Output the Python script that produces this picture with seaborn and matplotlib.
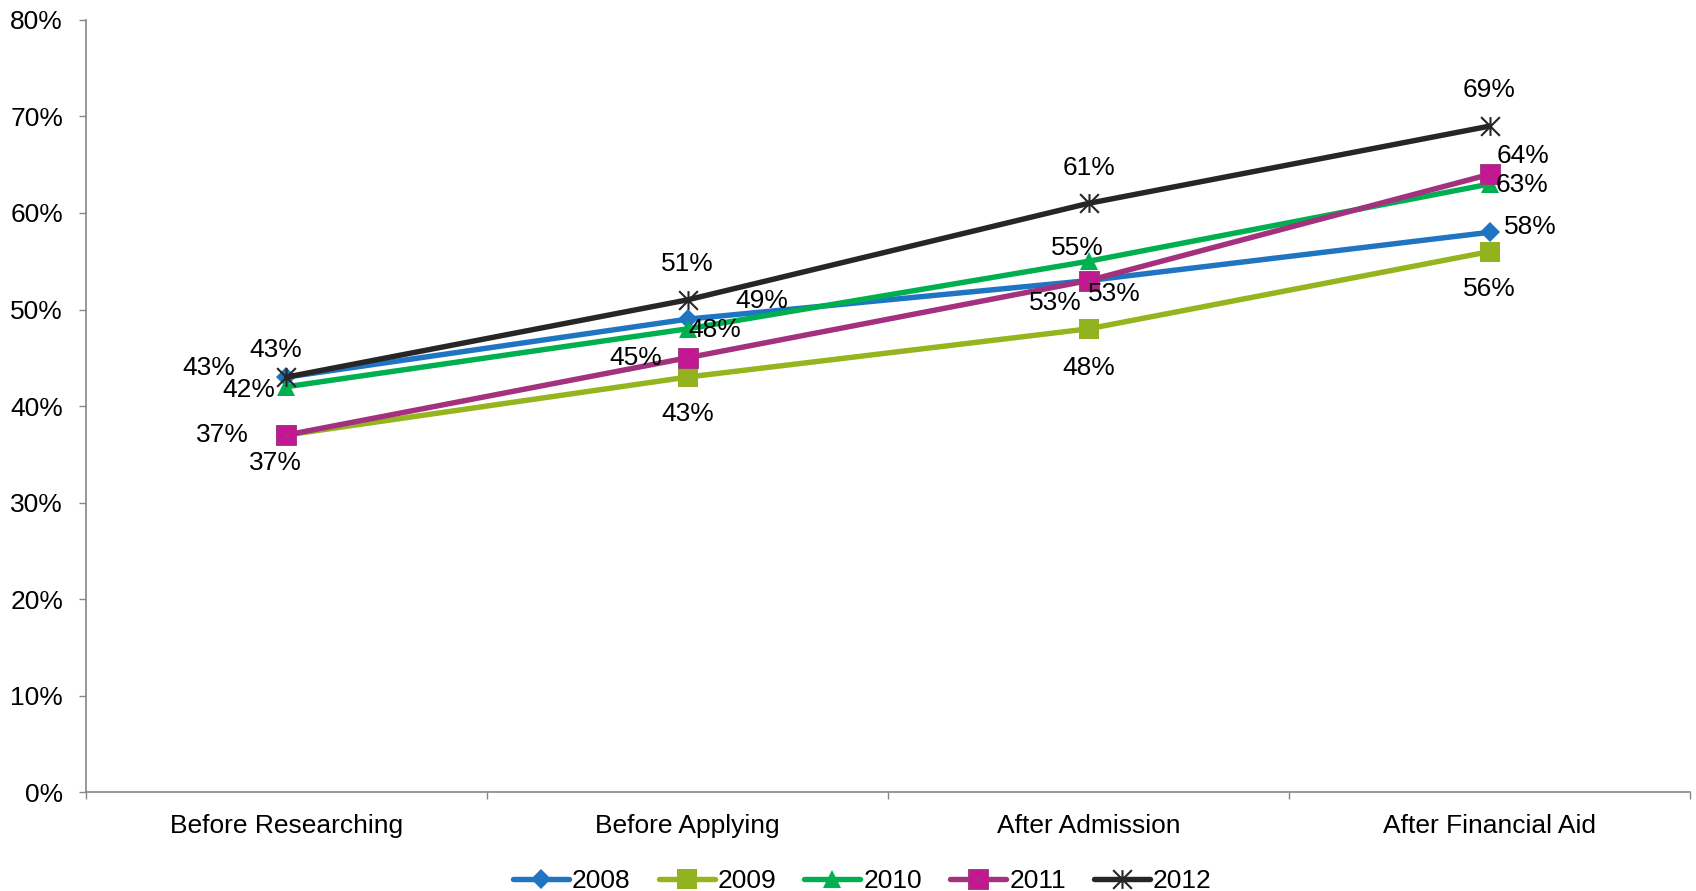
import matplotlib
matplotlib.use("Agg")
import matplotlib.pyplot as plt
import seaborn as sns
import numpy as np
from matplotlib.path import Path
from matplotlib.ticker import FixedLocator, PercentFormatter

# ---- data ----
categories = ["Before Researching", "Before Applying", "After Admission", "After Financial Aid"]
years = ["2008", "2009", "2010", "2011", "2012"]
v2008 = [43, 49, 53, 58]
v2009 = [37, 43, 48, 56]
v2010 = [42, 48, 55, 63]
v2011 = [37, 45, 53, 64]
v2012 = [43, 51, 61, 69]
series = [v2008, v2009, v2010, v2011, v2012]
yticks = [0, 10, 20, 30, 40, 50, 60, 70, 80]

# ---- styles ----
sns.set_theme(style="white")
plt.rcParams["font.family"] = ["Liberation Sans", "DejaVu Sans"]
FS = 19

line_colors = ["#1F75C1", "#96B41E", "#00B050", "#A3317E", "#262626"]

star = Path([(-1, -1), (1, 1), (-1, 1), (1, -1), (0, -1), (0, 1)],
            [Path.MOVETO, Path.LINETO, Path.MOVETO, Path.LINETO, Path.MOVETO, Path.LINETO])
sqx = Path([(-1, -1), (1, -1), (1, 1), (-1, 1), (-1, -1),
            (-1, -1), (1, 1), (-1, 1), (1, -1)],
           [Path.MOVETO, Path.LINETO, Path.LINETO, Path.LINETO, Path.CLOSEPOLY,
            Path.MOVETO, Path.LINETO, Path.MOVETO, Path.LINETO])
markers = ["D", "s", "^", sqx, star]
msizes = [10.5, 14, 13.5, 14, 13.5]
mews = [0, 0, 0, 1.0, 1.5]
medges = ["#1F75C1", "#92B21F", "#00B050", "#A3317E", "#262626"]
mfaces = ["#1F75C1", "#92B21F", "#00B050", "#CC1199", "none"]

# label offsets (pixels in the shrunk reference, relative to point)
offsets = [
    [(-72, 8), (69, 17), (-31, -21), (38, 5)],
    [(-10, -26), (0, -34), (0, -36), (0, -35)],
    [(-35, -3), (25, -1), (-10, 12), (30, -1)],
    [(-59, 0), (-48, 0), (24, -12), (31, 17)],
    [(-10, 25), (0, 33), (0, 33), (0, 33)],
]

fig = plt.figure(figsize=(16.96, 8.91), dpi=100)
ax = fig.add_axes([0.0507, 0.111, 0.9458, 0.8666])

x = np.arange(len(categories))
for i, (yr, vals) in enumerate(zip(years, series)):
    sns.lineplot(x=x, y=vals, ax=ax, color=line_colors[i], linewidth=3.9,
                 marker=markers[i], markersize=msizes[i],
                 markerfacecolor=mfaces[i], markeredgecolor=medges[i],
                 markeredgewidth=mews[i], label=yr, zorder=3 + i)
    for j, v in enumerate(vals):
        dx, dy = offsets[i][j]
        ax.annotate(f"{v}%", (x[j], v), xytext=(dx * 1.0816, dy * 1.0816),
                    textcoords="offset pixels", ha="center", va="center",
                    fontsize=FS, color="black", zorder=20)

ax.set_xlim(-0.5, len(categories) - 0.5)
ax.set_ylim(0, 80)
ax.set_yticks(yticks)
ax.yaxis.set_major_formatter(PercentFormatter(decimals=0))
ax.xaxis.set_major_locator(FixedLocator(np.arange(-0.5, len(categories), 1.0)))
ax.xaxis.set_minor_locator(FixedLocator(x))
ax.set_xticklabels([], minor=False)
ax.set_xticklabels(categories, minor=True)
ax.tick_params(axis="x", which="major", length=5, width=1, color="#868686", direction="out", bottom=True)
ax.tick_params(axis="x", which="minor", length=0, pad=16, labelsize=FS, labelcolor="black", bottom=True)
ax.tick_params(axis="y", which="major", length=5, width=1, color="#868686", direction="out",
               left=True, pad=11.5, labelsize=FS, labelcolor="black")
for s in ["top", "right"]:
    ax.spines[s].set_visible(False)
for s in ["left", "bottom"]:
    ax.spines[s].set_color("#868686")
    ax.spines[s].set_linewidth(1.2)
ax.set_xlabel("")
ax.set_ylabel("")
ax.grid(False)

leg = ax.legend(loc="center", bbox_to_anchor=(0.484, -0.115), ncol=5, frameon=False,
                fontsize=FS, handlelength=2.12, handletextpad=0.12, columnspacing=1.06,
                borderaxespad=0)
for t in leg.get_texts():
    t.set_color("black")

fig.savefig("out.png", dpi=100)
